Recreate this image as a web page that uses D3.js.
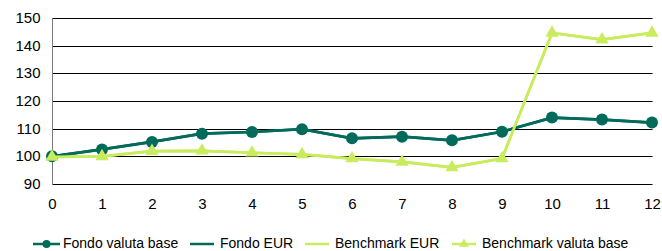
<!DOCTYPE html>
<html><head><meta charset="utf-8">
<script src="https://cdn.jsdelivr.net/npm/d3@7"></script>
<style>body{margin:0;background:#fff}svg{display:block}</style>
</head><body>
<svg id="c" width="662" height="251"></svg>
<script>
const categories = [0,1,2,3,4,5,6,7,8,9,10,11,12];
const yTicks = [90,100,110,120,130,140,150];
const fondoValutaBase = [100,102.5,105.2,108.2,108.8,109.8,106.5,107.1,105.8,108.9,114,113.3,112.2];
const fondoEUR = [100,102.5,105.2,108.2,108.8,109.8,106.5,107.1,105.8,108.9,114,113.3,112.2];
const benchmarkEUR = [99.8,100,101.9,102,101.3,100.7,99.2,98,96,99.2,144.6,142.2,144.6];
const benchmarkValutaBase = [99.8,100,101.9,102,101.3,100.7,99.2,98,96,99.2,144.6,142.2,144.6];
const seriesNames = ["Fondo valuta base","Fondo EUR","Benchmark EUR","Benchmark valuta base"];

const teal = "#006b5a", lime = "#c8ec5e";
const svg = d3.select("#c");
const x = d3.scaleLinear().domain([0,12]).range([52,652]);
const y = d3.scaleLinear().domain([90,150]).range([184,18]);

// gridlines + y axis
const yAxis = d3.axisLeft(y).tickValues(yTicks).tickSize(8).tickPadding(4);
const gy = svg.append("g").attr("transform","translate(52.5,0)").call(yAxis);
gy.select(".domain").remove();
gy.selectAll(".tick line").attr("stroke","#000").attr("x2",600);
gy.selectAll(".tick text").attr("font-family","Liberation Sans, Arial, sans-serif").attr("font-size",15).attr("fill","#000");
gy.selectAll(".tick").attr("transform",d=>`translate(0,${Math.round(y(d))+0.5})`);
// vertical axis line
svg.append("line").attr("x1",52.5).attr("x2",52.5).attr("y1",y(150)).attr("y2",y(90)+1).attr("stroke","#777").attr("stroke-width",1);

// x axis labels
const xAxis = d3.axisBottom(x).tickValues(categories).tickSize(0).tickPadding(14);
const gx = svg.append("g").attr("transform",`translate(0,${y(90)})`).call(xAxis);
gx.select(".domain").remove();
gx.selectAll(".tick text").attr("font-family","Liberation Sans, Arial, sans-serif").attr("font-size",15).attr("fill","#000");

const line = d3.line().x((d,i)=>x(categories[i])).y(d=>y(d));
function drawLine(data,color){
  svg.append("path").datum(data).attr("d",line).attr("fill","none").attr("stroke",color).attr("stroke-width",2.7);
}
drawLine(fondoEUR,teal);
drawLine(benchmarkEUR,lime);
drawLine(fondoValutaBase,teal);
svg.append("g").selectAll("circle").data(fondoValutaBase).join("circle")
  .attr("cx",(d,i)=>x(categories[i])).attr("cy",d=>y(d)).attr("r",6).attr("fill",teal);
drawLine(benchmarkValutaBase,lime);
const tri = d3.symbol().type(d3.symbolTriangle).size(75);
svg.append("g").selectAll("path").data(benchmarkValutaBase).join("path")
  .attr("d",tri).attr("transform",(d,i)=>`translate(${x(categories[i])},${y(d)})`).attr("fill",lime);

// legend
const legendItems = [
  {name:seriesNames[0],color:teal,marker:"circle",x1:33,x2:60,tx:63},
  {name:seriesNames[1],color:teal,marker:null,x1:190,x2:214,tx:220},
  {name:seriesNames[2],color:lime,marker:null,x1:305,x2:329,tx:335},
  {name:seriesNames[3],color:lime,marker:"tri",x1:452,x2:476,tx:482}
];
const ly = 244;
const lg = svg.append("g");
legendItems.forEach(it=>{
  lg.append("line").attr("x1",it.x1).attr("x2",it.x2).attr("y1",ly).attr("y2",ly).attr("stroke",it.color).attr("stroke-width",2.5);
  const cx=(it.x1+it.x2)/2;
  if(it.marker==="circle") lg.append("circle").attr("cx",cx).attr("cy",ly).attr("r",4).attr("fill",it.color);
  if(it.marker==="tri") lg.append("path").attr("d",d3.symbol().type(d3.symbolTriangle).size(40)).attr("transform",`translate(${cx},${ly})`).attr("fill",it.color);
  lg.append("text").attr("x",it.tx).attr("y",ly+4).attr("font-family","Liberation Sans, Arial, sans-serif").attr("font-size",14).attr("fill","#000").text(it.name);
});
</script>
</body></html>
